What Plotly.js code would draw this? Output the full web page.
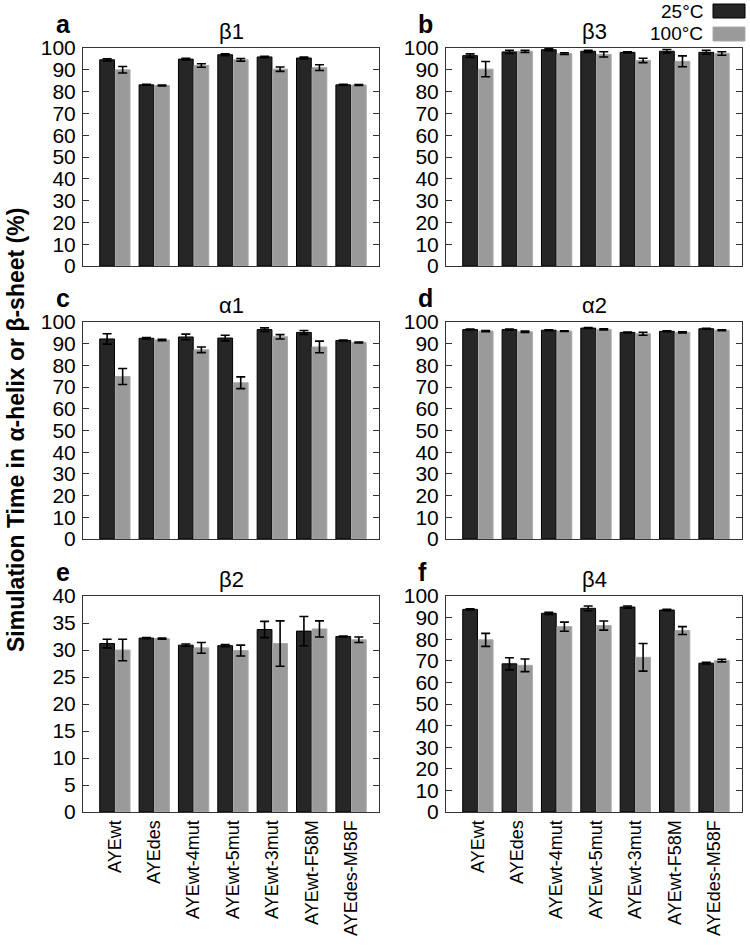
<!DOCTYPE html>
<html><head><meta charset="utf-8">
<script src="https://cdn.plot.ly/plotly-3.0.1.min.js"></script>
<style>html,body{margin:0;padding:0;background:#fff}#chart{width:750px;height:946px}</style>
</head><body><div id="chart"></div>
<script>
// ---- data ----
const categories = ["AYEwt", "AYEdes", "AYEwt-4mut", "AYEwt-5mut", "AYEwt-3mut", "AYEwt-F58M", "AYEdes-M58F"];
const seriesNames = ["25°C", "100°C"];

const beta1_25 = [94.6, 83.1, 94.9, 96.9, 95.9, 95.4, 83.1];
const beta1_25_err = [0.5, 0.2, 0.4, 0.4, 0.3, 0.4, 0.2];
const beta1_100 = [90.0, 82.8, 92.0, 94.6, 90.3, 91.0, 83.0];
const beta1_100_err = [1.5, 0.2, 0.8, 0.6, 1.0, 1.3, 0.2];

const beta3_25 = [96.5, 98.2, 99.2, 98.5, 98.0, 98.5, 98.0];
const beta3_25_err = [0.8, 0.7, 0.4, 0.5, 0.3, 0.8, 0.9];
const beta3_100 = [90.3, 98.5, 97.4, 97.1, 94.3, 93.9, 97.5];
const beta3_100_err = [3.5, 0.5, 0.4, 1.2, 1.0, 2.5, 0.8];

const alpha1_25 = [92.2, 92.5, 93.1, 92.6, 96.5, 95.2, 91.5];
const alpha1_25_err = [2.4, 0.3, 1.3, 1.3, 0.8, 0.9, 0.2];
const alpha1_100 = [74.9, 91.7, 87.2, 72.0, 93.2, 88.5, 90.6];
const alpha1_100_err = [3.7, 0.3, 1.3, 2.7, 1.0, 2.7, 0.2];

const alpha2_25 = [96.5, 96.5, 96.2, 97.2, 95.2, 95.7, 96.9];
const alpha2_25_err = [0.2, 0.2, 0.2, 0.2, 0.2, 0.2, 0.2];
const alpha2_100 = [95.8, 95.5, 95.8, 96.6, 94.6, 95.2, 96.2];
const alpha2_100_err = [0.3, 0.3, 0.2, 0.3, 0.7, 0.3, 0.2];

const beta2_25 = [31.2, 32.2, 30.9, 30.8, 33.8, 33.5, 32.5];
const beta2_25_err = [0.8, 0.1, 0.2, 0.2, 1.5, 2.7, 0.1];
const beta2_100 = [30.0, 32.1, 30.4, 29.9, 31.2, 33.9, 31.9];
const beta2_100_err = [2.0, 0.1, 1.0, 1.0, 4.2, 1.5, 0.5];

const beta4_25 = [93.8, 68.6, 92.0, 94.3, 94.9, 93.5, 68.9];
const beta4_25_err = [0.3, 2.8, 0.5, 1.1, 0.5, 0.3, 0.4];
const beta4_100 = [79.7, 67.9, 85.8, 86.3, 71.6, 84.0, 70.1];
const beta4_100_err = [3.0, 2.9, 2.1, 2.1, 6.4, 1.8, 0.6];

const panelLetters = ["a", "b", "c", "d", "e", "f"];
const panelTitles = ["β1", "β3", "α1", "α2", "β2", "β4"];
const yTitle = "Simulation Time in α-helix or β-sheet (%)";

// ---- build ----
const W = 750, H = 946;
const FONT = "Liberation Sans, Arial, Helvetica, sans-serif";
const DARK = "#262626", GRAY = "#9a9a9a";
const px = v => v / W;
const py = v => 1 - v / H;

// panel pixel boxes
const colX = [[83, 379], [446, 742]];
const rowY = [[48, 266], [322, 539], [596, 812]];

const panels = [
  {d25: beta1_25, e25: beta1_25_err, d100: beta1_100, e100: beta1_100_err, max: 100, dt: 10},
  {d25: beta3_25, e25: beta3_25_err, d100: beta3_100, e100: beta3_100_err, max: 100, dt: 10},
  {d25: alpha1_25, e25: alpha1_25_err, d100: alpha1_100, e100: alpha1_100_err, max: 100, dt: 10},
  {d25: alpha2_25, e25: alpha2_25_err, d100: alpha2_100, e100: alpha2_100_err, max: 100, dt: 10},
  {d25: beta2_25, e25: beta2_25_err, d100: beta2_100, e100: beta2_100_err, max: 40, dt: 5},
  {d25: beta4_25, e25: beta4_25_err, d100: beta4_100, e100: beta4_100_err, max: 100, dt: 10}
];

const traces = [];
const layout = {
  width: W, height: H,
  margin: {l: 0, r: 0, t: 0, b: 0},
  paper_bgcolor: "#fff", plot_bgcolor: "#fff",
  showlegend: false,
  barmode: "group",
  bargap: 0.21,
  bargroupgap: 0.05,
  font: {family: FONT, color: "#000"},
  annotations: [],
  shapes: []
};

panels.forEach((p, i) => {
  const col = i % 2, row = Math.floor(i / 2);
  const n = i + 1;
  const xa = n === 1 ? "x" : "x" + n;
  const ya = n === 1 ? "y" : "y" + n;
  const xKey = n === 1 ? "xaxis" : "xaxis" + n;
  const yKey = n === 1 ? "yaxis" : "yaxis" + n;
  const [l, r] = colX[col];
  const [t, b] = rowY[row];

  traces.push({
    type: "bar", x: categories, y: p.d25, name: seriesNames[0],
    xaxis: xa, yaxis: ya,
    marker: {color: DARK, line: {color: "#000", width: 1}},
    error_y: {type: "data", array: p.e25, visible: true, color: "#000", thickness: 1.6, width: 4.5}
  });
  traces.push({
    type: "bar", x: categories, y: p.d100, name: seriesNames[1],
    xaxis: xa, yaxis: ya,
    marker: {color: GRAY, line: {color: "#a8a8a8", width: 1}},
    error_y: {type: "data", array: p.e100, visible: true, color: "#000", thickness: 1.6, width: 4.5}
  });

  layout[xKey] = {
    domain: [px(l), px(r)], anchor: ya,
    type: "category", range: [-0.81, 6.71],
    showline: true, mirror: true, linecolor: "#333", linewidth: 1,
    ticks: "", showgrid: false, zeroline: false,
    showticklabels: row === 2, tickangle: -90,
    tickfont: {size: 18, family: FONT, color: "#000"}
  };
  layout[yKey] = {
    domain: [py(b), py(t)], anchor: xa,
    range: [0, p.max], dtick: p.dt, tick0: 0,
    showline: true, mirror: "ticks", linecolor: "#333", linewidth: 1,
    ticks: "inside", ticklen: 6, tickcolor: "#333", tickwidth: 1,
    showgrid: false, zeroline: false,
    tickfont: {size: 21, family: FONT, color: "#000"},
    ticklabelstandoff: 2
  };

  // panel title
  layout.annotations.push({
    xref: "paper", yref: "paper", x: px((l + r) / 2), y: py(t - 17),
    xanchor: "center", yanchor: "middle", showarrow: false,
    text: panelTitles[i], font: {size: 22, family: FONT, color: "#000"}
  });
  // panel letter
  layout.annotations.push({
    xref: "paper", yref: "paper", x: px(col === 0 ? 54 : 416), y: py(t - 24),
    xanchor: "left", yanchor: "middle", showarrow: false,
    text: "<b>" + panelLetters[i] + "</b>", font: {size: 25, family: FONT, color: "#000"}
  });
});

// y title
layout.annotations.push({
  xref: "paper", yref: "paper", x: px(16), y: py(430),
  xanchor: "center", yanchor: "middle", showarrow: false, textangle: -90,
  text: "<b>" + yTitle + "</b>", font: {size: 23, family: FONT, color: "#000"}
});

// legend (labels left of swatches)
const legendRows = [{name: seriesNames[0], color: DARK, line: "#000", cy: 11}, {name: seriesNames[1], color: GRAY, line: "#a8a8a8", cy: 34}];
legendRows.forEach(lr => {
  layout.shapes.push({
    type: "rect", xref: "paper", yref: "paper",
    x0: px(713), x1: px(745), y0: py(lr.cy + 7), y1: py(lr.cy - 7),
    fillcolor: lr.color, line: {color: lr.line, width: 1}
  });
  layout.annotations.push({
    xref: "paper", yref: "paper", x: px(705), y: py(lr.cy),
    xanchor: "right", yanchor: "middle", showarrow: false,
    text: lr.name, font: {size: 19, family: FONT, color: "#000"}
  });
});

Plotly.newPlot("chart", traces, layout, {displayModeBar: false, staticPlot: true});
</script>
</body></html>
